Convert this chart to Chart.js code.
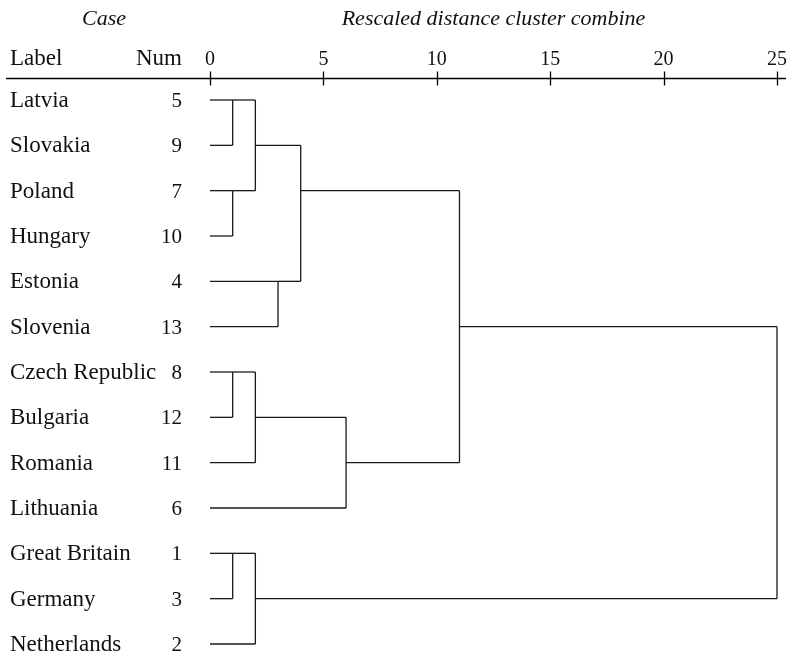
<!DOCTYPE html>
<html>
<head>
<meta charset="utf-8">
<script src="https://cdn.jsdelivr.net/npm/chart.js@4.4.1/dist/chart.umd.min.js"></script>
<style>
  html, body { margin: 0; padding: 0; background: #fff; }
</style>
</head>
<body>
<canvas id="dendroChart" width="790" height="657"></canvas>
<script>
// cases, top to bottom
const caseLabels = ['Latvia', 'Slovakia', 'Poland', 'Hungary', 'Estonia', 'Slovenia',
  'Czech Republic', 'Bulgaria', 'Romania', 'Lithuania', 'Great Britain', 'Germany', 'Netherlands'];
const caseNums = [5, 9, 7, 10, 4, 13, 8, 12, 11, 6, 1, 3, 2];

// agglomeration schedule: leaves are 0..12, each merge makes node 13, 14, ...
const mergeLeft = [0, 2, 13, 4, 15, 6, 18, 19, 17, 10, 22, 21];
const mergeRight = [1, 3, 14, 5, 16, 7, 8, 9, 20, 11, 12, 23];
const mergeDist = [1, 1, 2, 3, 4, 1, 2, 6, 11, 1, 2, 25];

const tickValues = [0, 5, 10, 15, 20, 25];

const lineColor = '#1a1a1a';
const serif = '"Liberation Serif", "DejaVu Serif", serif';

// build the dendrogram segments (SPSS style: a merged cluster sits on the row
// half way between its two children, rounded up)
const nodeRow = caseLabels.map((_, i) => i);
const nodeDist = caseLabels.map(() => 0);
const segments = [];
for (let i = 0; i < mergeDist.length; i++) {
  const a = mergeLeft[i], b = mergeRight[i], d = mergeDist[i];
  const ra = nodeRow[a], rb = nodeRow[b];
  segments.push([{ x: nodeDist[a], y: ra }, { x: d, y: ra }]);
  segments.push([{ x: nodeDist[b], y: rb }, { x: d, y: rb }]);
  segments.push([{ x: d, y: ra }, { x: d, y: rb }]);
  nodeRow.push(Math.floor((ra + rb) / 2));
  nodeDist.push(d);
}

const headerPlugin = {
  id: 'header',
  afterDraw(chart) {
    const c = chart.ctx;
    const xs = chart.scales.x, ys = chart.scales.y;
    const axisY = Math.round(ys.getPixelForValue(-0.49)) + 0.5;
    c.save();
    c.strokeStyle = '#000';
    c.lineWidth = 1.3;
    c.beginPath();
    c.moveTo(6, axisY);
    c.lineTo(786, axisY);
    tickValues.forEach(v => {
      const px = Math.round(xs.getPixelForValue(v)) + 0.5;
      c.moveTo(px, axisY - 7);
      c.lineTo(px, axisY + 7);
    });
    c.stroke();

    c.fillStyle = '#111';
    c.font = '20px ' + serif;
    c.textAlign = 'center';
    c.textBaseline = 'alphabetic';
    tickValues.forEach(v => {
      c.fillText(String(v), xs.getPixelForValue(v), axisY - 14);
    });

    c.font = 'italic 22px ' + serif;
    c.fillText('Case', 104, 25);
    c.fillText('Rescaled distance cluster combine', (xs.left + xs.right) / 2, 25);

    c.font = '23px ' + serif;
    c.textAlign = 'left';
    c.fillText('Label', 10, 65);
    c.textAlign = 'right';
    c.fillText('Num', 182, 65);

    caseLabels.forEach((lab, i) => {
      const py = ys.getPixelForValue(i) + 7;
      c.font = '23px ' + serif;
      c.textAlign = 'left';
      c.fillText(lab, 10, py);
      c.font = '21px ' + serif;
      c.textAlign = 'right';
      c.fillText(String(caseNums[i]), 182, py);
    });
    c.restore();
  }
};

const ctx = document.getElementById('dendroChart').getContext('2d');
const dendroChart = new Chart(ctx, {
  type: 'scatter',
  data: {
    datasets: segments.map(seg => ({
      data: seg,
      showLine: true,
      borderColor: lineColor,
      borderWidth: 1.3,
      pointRadius: 0,
      clip: false
    }))
  },
  options: {
    responsive: false,
    animation: false,
    devicePixelRatio: 1,
    layout: { padding: { left: 210, right: 13, top: 100, bottom: 13 } },
    plugins: { legend: { display: false }, tooltip: { enabled: false } },
    scales: {
      x: { type: 'linear', min: 0, max: 25, display: false },
      y: { type: 'linear', min: 0, max: 12, reverse: true, display: false }
    }
  },
  plugins: [headerPlugin]
});
</script>
</body>
</html>
